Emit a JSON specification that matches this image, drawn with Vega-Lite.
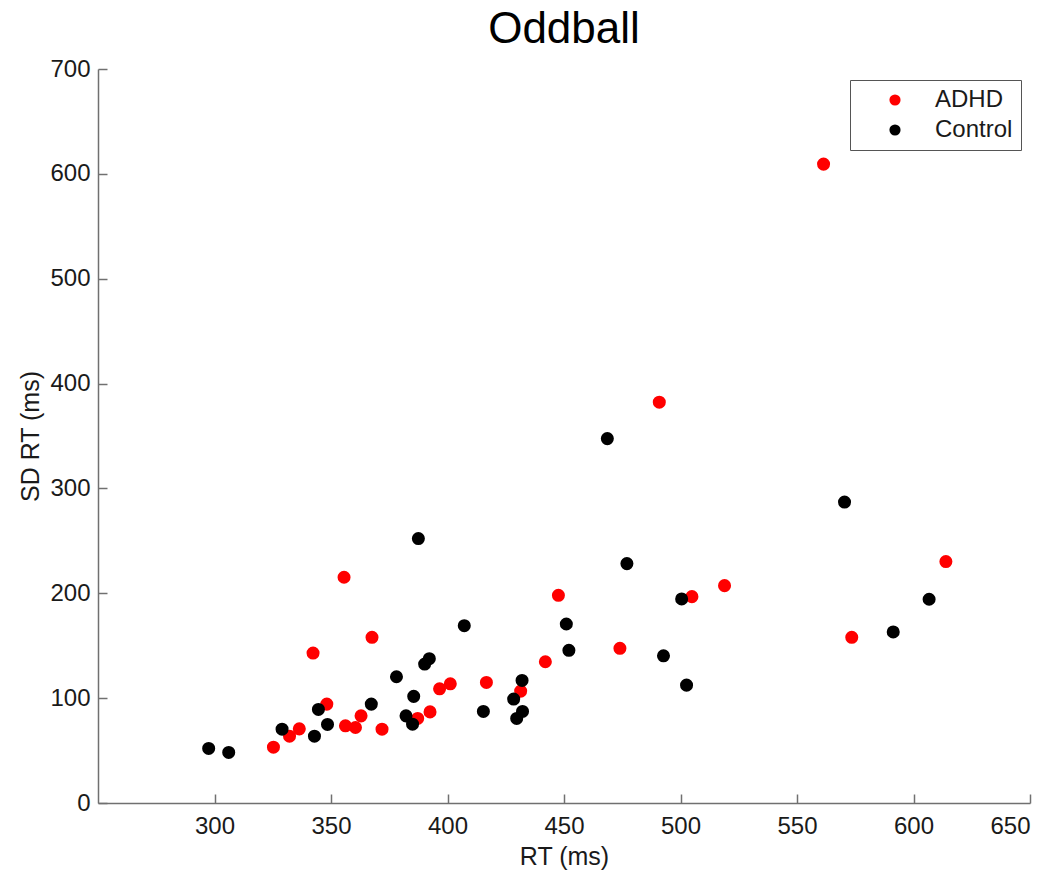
{
  "$schema": "https://vega.github.io/schema/vega-lite/v6.json",
  "autosize": {"type": "none"},
  "width": 932,
  "height": 734,
  "padding": {"left": 98, "top": 69, "right": 24, "bottom": 69},
  "background": "white",
  "title": {"text": "Oddball", "font": "Liberation Sans", "fontSize": 44, "fontWeight": "normal", "color": "#000000", "anchor": "middle", "frame": "group", "baseline": "alphabetic", "offset": 0, "dy": 30},
  "config": {
    "view": {"stroke": null},
    "axis": {"labelFont": "Liberation Sans", "titleFont": "Liberation Sans", "labelFontSize": 24, "titleFontSize": 25, "titleFontWeight": "normal", "labelColor": "#1a1a1a", "titleColor": "#1a1a1a", "domainColor": "#707070", "tickColor": "#707070", "domainWidth": 1.5, "tickWidth": 1.5, "grid": false}
  },
  "data": {"values": [
    {"group": "ADHD", "rt": 561.4, "sd": 609.3},
    {"group": "ADHD", "rt": 490.9, "sd": 382.2},
    {"group": "ADHD", "rt": 613.9, "sd": 230.3},
    {"group": "ADHD", "rt": 518.9, "sd": 207.3},
    {"group": "ADHD", "rt": 504.9, "sd": 196.8},
    {"group": "ADHD", "rt": 447.6, "sd": 198.1},
    {"group": "ADHD", "rt": 573.5, "sd": 158.0},
    {"group": "ADHD", "rt": 474.0, "sd": 147.5},
    {"group": "ADHD", "rt": 442.0, "sd": 134.7},
    {"group": "ADHD", "rt": 431.4, "sd": 106.7},
    {"group": "ADHD", "rt": 416.7, "sd": 115.0},
    {"group": "ADHD", "rt": 401.2, "sd": 113.7},
    {"group": "ADHD", "rt": 396.6, "sd": 108.9},
    {"group": "ADHD", "rt": 392.5, "sd": 86.9},
    {"group": "ADHD", "rt": 387.2, "sd": 80.6},
    {"group": "ADHD", "rt": 371.9, "sd": 70.4},
    {"group": "ADHD", "rt": 362.9, "sd": 83.1},
    {"group": "ADHD", "rt": 360.5, "sd": 72.0},
    {"group": "ADHD", "rt": 356.2, "sd": 73.6},
    {"group": "ADHD", "rt": 355.6, "sd": 215.3},
    {"group": "ADHD", "rt": 367.6, "sd": 158.0},
    {"group": "ADHD", "rt": 342.3, "sd": 143.0},
    {"group": "ADHD", "rt": 348.2, "sd": 94.3},
    {"group": "ADHD", "rt": 336.4, "sd": 70.7},
    {"group": "ADHD", "rt": 332.2, "sd": 63.7},
    {"group": "ADHD", "rt": 325.3, "sd": 53.2},
    {"group": "Control", "rt": 468.6, "sd": 347.5},
    {"group": "Control", "rt": 570.4, "sd": 287.0},
    {"group": "Control", "rt": 387.5, "sd": 252.2},
    {"group": "Control", "rt": 477.0, "sd": 228.3},
    {"group": "Control", "rt": 606.7, "sd": 194.3},
    {"group": "Control", "rt": 500.5, "sd": 194.6},
    {"group": "Control", "rt": 591.3, "sd": 163.1},
    {"group": "Control", "rt": 407.2, "sd": 169.1},
    {"group": "Control", "rt": 451.0, "sd": 170.7},
    {"group": "Control", "rt": 452.1, "sd": 145.6},
    {"group": "Control", "rt": 492.7, "sd": 140.4},
    {"group": "Control", "rt": 392.2, "sd": 137.6},
    {"group": "Control", "rt": 390.2, "sd": 132.5},
    {"group": "Control", "rt": 378.1, "sd": 120.4},
    {"group": "Control", "rt": 432.0, "sd": 116.9},
    {"group": "Control", "rt": 502.6, "sd": 112.4},
    {"group": "Control", "rt": 428.4, "sd": 99.1},
    {"group": "Control", "rt": 415.4, "sd": 87.3},
    {"group": "Control", "rt": 432.2, "sd": 87.3},
    {"group": "Control", "rt": 429.7, "sd": 80.6},
    {"group": "Control", "rt": 385.5, "sd": 101.7},
    {"group": "Control", "rt": 367.3, "sd": 94.3},
    {"group": "Control", "rt": 344.6, "sd": 89.2},
    {"group": "Control", "rt": 348.5, "sd": 74.9},
    {"group": "Control", "rt": 342.9, "sd": 63.7},
    {"group": "Control", "rt": 329.0, "sd": 70.4},
    {"group": "Control", "rt": 382.2, "sd": 83.1},
    {"group": "Control", "rt": 385.0, "sd": 75.2},
    {"group": "Control", "rt": 297.5, "sd": 52.0},
    {"group": "Control", "rt": 306.1, "sd": 48.2}
  ]},
  "mark": {"type": "circle", "size": 170, "opacity": 1},
  "encoding": {
    "x": {"field": "rt", "type": "quantitative", "scale": {"domain": [250, 650], "nice": false, "zero": false},
      "axis": {"title": "RT (ms)", "values": [300, 350, 400, 450, 500, 550, 600, 650], "tickSize": -9, "labelPadding": 20, "titleY": 53, "titleBaseline": "middle"}},
    "y": {"field": "sd", "type": "quantitative", "scale": {"domain": [0, 700], "nice": false},
      "axis": {"title": "SD RT (ms)", "values": [0, 100, 200, 300, 400, 500, 600, 700], "tickSize": -9, "labelPadding": 17, "titleX": -68, "titleBaseline": "middle"}},
    "color": {"field": "group", "type": "nominal", "scale": {"domain": ["ADHD", "Control"], "range": ["#ff0000", "#000000"]},
      "legend": {"title": null, "orient": "none", "legendX": 752, "legendY": 11, "strokeColor": "#555555", "fillColor": "white", "padding": 8, "labelFont": "Liberation Sans", "labelFontSize": 24, "labelColor": "#1a1a1a", "symbolType": "circle", "symbolSize": 125, "symbolOffset": 25, "labelOffset": 28, "rowPadding": 6, "symbolStrokeWidth": 0}}
  }
}
